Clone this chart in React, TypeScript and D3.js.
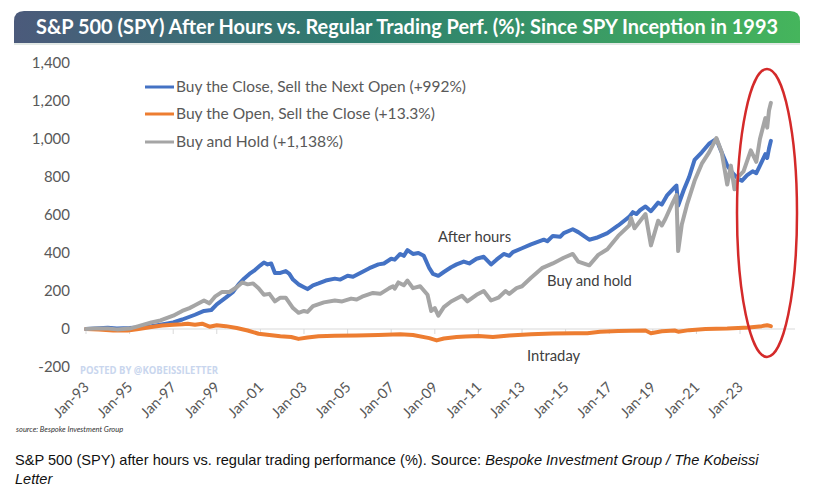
import React from "react";
import * as d3 from "d3";

// ---------- Data ----------
const afterHours: [string, number][] = [
  ["1993-01", 0], ["1993-06", 3], ["1994-01", 6], ["1994-06", 3], ["1995-01", 5], ["1995-06", 8],
  ["1996-01", 15], ["1996-06", 22], ["1997-01", 35], ["1997-06", 50], ["1998-01", 75], ["1998-06", 95],
  ["1998-10", 100], ["1999-01", 130], ["1999-06", 165], ["1999-10", 195], ["2000-01", 235], ["2000-04", 265],
  ["2000-07", 290], ["2000-10", 310], ["2001-01", 335], ["2001-03", 350], ["2001-05", 340], ["2001-07", 345],
  ["2001-09", 295], ["2001-12", 295], ["2002-03", 305], ["2002-05", 290], ["2002-07", 260], ["2002-10", 235],
  ["2003-01", 220], ["2003-03", 210], ["2003-06", 230], ["2003-09", 240], ["2004-01", 255], ["2004-06", 265],
  ["2004-09", 260], ["2005-01", 280], ["2005-04", 275], ["2005-08", 295], ["2006-01", 320], ["2006-06", 340],
  ["2006-09", 345], ["2007-01", 370], ["2007-03", 365], ["2007-06", 395], ["2007-08", 385], ["2007-10", 415],
  ["2008-01", 395], ["2008-04", 400], ["2008-07", 385], ["2008-10", 320], ["2008-12", 290],
  ["2009-03", 280], ["2009-06", 300], ["2009-10", 325], ["2010-01", 340], ["2010-05", 355], ["2010-08", 345],
  ["2010-12", 370], ["2011-04", 380], ["2011-08", 340], ["2011-11", 365], ["2012-03", 395], ["2012-06", 385],
  ["2012-08", 405], ["2013-01", 425], ["2013-06", 445], ["2014-01", 470], ["2014-03", 462], ["2014-06", 490],
  ["2014-10", 485], ["2014-12", 505], ["2015-05", 525], ["2015-08", 510], ["2016-02", 470], ["2016-06", 480],
  ["2016-12", 505], ["2017-06", 545], ["2017-12", 590], ["2018-02", 615], ["2018-04", 605], ["2018-06", 625],
  ["2018-09", 645], ["2018-12", 620], ["2019-04", 665], ["2019-06", 655], ["2019-09", 705],
  ["2020-01", 745], ["2020-02", 755], ["2020-03", 650], ["2020-06", 730], ["2020-09", 800], ["2020-12", 890],
  ["2021-04", 930], ["2021-08", 975], ["2021-12", 1000], ["2022-02", 950], ["2022-06", 860], ["2022-09", 820],
  ["2022-12", 790], ["2023-02", 780], ["2023-05", 810], ["2023-08", 830], ["2023-10", 820], ["2023-12", 860],
  ["2024-03", 920], ["2024-04", 900], ["2024-05", 950], ["2024-06", 990],
];

const intraday: [string, number][] = [
  ["1993-01", 0], ["1993-08", -3], ["1994-04", -8], ["1994-12", -8], ["1995-06", 0], ["1996-01", 10],
  ["1996-07", 18], ["1997-01", 22], ["1997-06", 25], ["1997-09", 28], ["1998-01", 22], ["1998-05", 28],
  ["1998-09", 12], ["1999-01", 20], ["1999-06", 15], ["1999-12", 5], ["2000-06", -8], ["2000-12", -25],
  ["2001-06", -32], ["2001-12", -38], ["2002-06", -42], ["2002-10", -52], ["2003-03", -45], ["2003-09", -38],
  ["2004-06", -36], ["2005-06", -34], ["2006-06", -31], ["2007-06", -28], ["2008-01", -32], ["2008-10", -48],
  ["2009-02", -60], ["2009-06", -50], ["2010-01", -42], ["2010-06", -40], ["2011-01", -37], ["2011-09", -42],
  ["2012-06", -34], ["2013-06", -28], ["2014-06", -24], ["2015-06", -22], ["2016-01", -22], ["2016-08", -14],
  ["2017-06", -10], ["2018-09", -8], ["2018-12", -22], ["2019-06", -12], ["2020-01", -8], ["2020-03", -14],
  ["2020-09", -6], ["2021-06", 0], ["2022-06", 2], ["2023-06", 8], ["2024-01", 15], ["2024-04", 20],
  ["2024-06", 15],
];

const buyHold: [string, number][] = [
  ["1993-01", 0], ["1993-06", 2], ["1994-01", 3], ["1994-06", -2], ["1995-01", 2], ["1995-06", 15],
  ["1996-01", 35], ["1996-06", 45], ["1997-01", 70], ["1997-06", 95], ["1997-10", 110], ["1998-01", 125],
  ["1998-06", 150], ["1998-09", 135], ["1998-12", 170], ["1999-04", 195], ["1999-08", 195], ["1999-12", 220],
  ["2000-03", 245], ["2000-06", 235], ["2000-09", 240], ["2000-12", 215], ["2001-03", 180], ["2001-06", 185],
  ["2001-09", 145], ["2001-12", 165], ["2002-03", 165], ["2002-07", 110], ["2002-10", 85], ["2003-01", 95],
  ["2003-03", 90], ["2003-06", 120], ["2003-12", 140], ["2004-06", 150], ["2004-10", 145], ["2005-03", 160],
  ["2005-06", 155], ["2005-09", 170], ["2006-03", 190], ["2006-07", 185], ["2006-12", 215], ["2007-02", 225],
  ["2007-03", 212], ["2007-05", 245], ["2007-08", 230], ["2007-10", 255], ["2008-01", 215], ["2008-05", 225],
  ["2008-09", 180], ["2008-11", 95], ["2009-01", 110], ["2009-03", 70], ["2009-06", 115], ["2009-10", 145],
  ["2010-04", 175], ["2010-07", 145], ["2010-12", 180], ["2011-04", 200], ["2011-08", 150], ["2011-12", 165],
  ["2012-04", 200], ["2012-06", 185], ["2012-10", 215], ["2013-01", 225], ["2013-06", 270], ["2013-12", 320],
  ["2014-06", 345], ["2014-12", 375], ["2015-05", 395], ["2015-08", 355], ["2016-02", 335], ["2016-07", 390],
  ["2016-12", 420], ["2017-06", 490], ["2017-12", 545], ["2018-01", 585], ["2018-03", 530], ["2018-09", 605],
  ["2018-12", 440], ["2019-04", 570], ["2019-06", 545], ["2019-08", 580], ["2019-12", 665],
  ["2020-02", 705], ["2020-03", 410], ["2020-05", 550], ["2020-08", 660], ["2020-12", 780], ["2021-04", 870],
  ["2021-08", 930], ["2021-12", 1005], ["2022-03", 930], ["2022-06", 760], ["2022-08", 860], ["2022-10", 735],
  ["2022-12", 800], ["2023-03", 830], ["2023-07", 940], ["2023-10", 880], ["2023-12", 1000], ["2024-03", 1110],
  ["2024-04", 1060], ["2024-05", 1150], ["2024-06", 1190],
];

const yTicks = [-200, 0, 200, 400, 600, 800, 1000, 1200, 1400];
const xTickYears = [1993, 1995, 1997, 1999, 2001, 2003, 2005, 2007, 2009, 2011, 2013, 2015, 2017, 2019, 2021, 2023];

const legendLabels = [
  "Buy the Close, Sell the Next Open (+992%)",
  "Buy the Open, Sell the Close (+13.3%)",
  "Buy and Hold (+1,138%)",
];
const legendWidths = [290, 259, 167];
const seriesColors = ["#4472c4", "#ed7d31", "#a5a5a5"];

const titleText = "S&P 500 (SPY) After Hours vs. Regular Trading Perf. (%): Since SPY Inception in 1993";

// ---------- Chart ----------
const parse = d3.timeParse("%Y-%m");
const fmt = d3.timeFormat("%b-%y");

export default function App() {
  const W = 818, H = 500;
  const x = d3.scaleTime().domain([new Date(1993, 0, 1), new Date(2023, 0, 1)]).range([86, 740]);
  const y = d3.scaleLinear().domain([-200, 1400]).range([367, 63]);
  const line = d3.line<[string, number]>()
    .x((d) => x(parse(d[0]) as Date))
    .y((d) => y(d[1]));

  const series = [afterHours, intraday, buyHold];
  const axisFont = "Lato, 'Open Sans', sans-serif";

  return (
    <svg width={W} height={H} style={{ position: "absolute", left: 0, top: 0, background: "#fff" }}>
      <defs>
        <linearGradient id="banner" x1="0" x2="1" y1="0" y2="0">
          <stop offset="0%" stopColor="#4b5a7b" />
          <stop offset="45%" stopColor="#2e7e6f" />
          <stop offset="100%" stopColor="#45b55c" />
        </linearGradient>
      </defs>
      <rect x={0} y={0} width={W} height={H} fill="#fff" />

      {/* Title banner */}
      <path d="M14,43 L14,21 Q14,11 24,11 L790,11 Q800,11 800,21 L800,43 Z" fill="url(#banner)" />
      <rect x={14} y={43} width={786} height={2} fill="#e2e8e5" />
      <text x={36} y={34} fill="#fff" fontFamily={axisFont} fontWeight={700} fontSize={20}
        textLength={742} lengthAdjust="spacingAndGlyphs">{titleText}</text>

      {/* Y axis labels */}
      {yTicks.map((t) => (
        <text key={t} x={70} y={y(t)} dy="0.35em" textAnchor="end" fill="#595959"
          fontFamily={axisFont} fontSize={15}>{d3.format(",")(t).replace("−", "-")}</text>
      ))}

      {/* X axis line & ticks at zero */}
      <line x1={86} x2={795} y1={y(0)} y2={y(0)} stroke="#d9d9d9" strokeWidth={1} />
      {xTickYears.map((yr) => {
        const d = new Date(yr, 0, 1);
        const px = x(d);
        return (
          <g key={yr}>
            <line x1={px} x2={px} y1={y(0)} y2={y(0) + 5} stroke="#d9d9d9" strokeWidth={1} />
            <text transform={`translate(${px + 4},${388}) rotate(-45)`} textAnchor="end" fill="#595959"
              fontFamily={axisFont} fontSize={14.5}>{fmt(d)}</text>
          </g>
        );
      })}

      {/* Series lines */}
      {series.map((s, i) => (
        <path key={i} d={line(s) || ""} fill="none" stroke={seriesColors[i]} strokeWidth={4}
          strokeLinejoin="round" strokeLinecap="round" />
      ))}

      {/* Legend */}
      {legendLabels.map((lab, i) => {
        const ly = [87, 114, 142][i];
        return (
          <g key={lab}>
            <line x1={145} x2={174} y1={ly} y2={ly} stroke={seriesColors[i]} strokeWidth={3} />
            <text x={176} y={ly} dy="0.35em" fill="#595959" fontFamily={axisFont} fontSize={15}
              textLength={legendWidths[i]} lengthAdjust="spacingAndGlyphs">{lab}</text>
          </g>
        );
      })}

      {/* Annotations */}
      <text x={438} y={242} fill="#404040" fontFamily={axisFont} fontSize={14.8}>After hours</text>
      <text x={547} y={286} fill="#404040" fontFamily={axisFont} fontSize={14.8}>Buy and hold</text>
      <text x={527} y={361} fill="#404040" fontFamily={axisFont} fontSize={14.8}>Intraday</text>

      {/* Watermark */}
      <text x={80} y={374} fill="#c9d6ee" fontFamily="'Open Sans', sans-serif" fontWeight={700} fontSize={10}
        textLength={138} lengthAdjust="spacingAndGlyphs">POSTED BY @KOBEISSILETTER</text>

      {/* Red ellipse */}
      <ellipse cx={767} cy={213} rx={30} ry={144} fill="none" stroke="#d42a2a" strokeWidth={2.5} />

      {/* Source */}
      <text x={16} y={432} fill="#333" fontFamily={axisFont} fontStyle="italic" fontSize={7.5}>
        source: Bespoke Investment Group</text>

      {/* Caption */}
      <text x={15} y={465} fill="#111" fontFamily="'Liberation Sans', Arial, sans-serif" fontSize={14.6}>
        S&amp;P 500 (SPY) after hours vs. regular trading performance (%). Source:{" "}
        <tspan fontStyle="italic">Bespoke Investment Group / The Kobeissi</tspan>
      </text>
      <text x={15} y={484} fill="#111" fontFamily="'Liberation Sans', Arial, sans-serif" fontSize={14.6}
        fontStyle="italic">Letter</text>
    </svg>
  );
}
